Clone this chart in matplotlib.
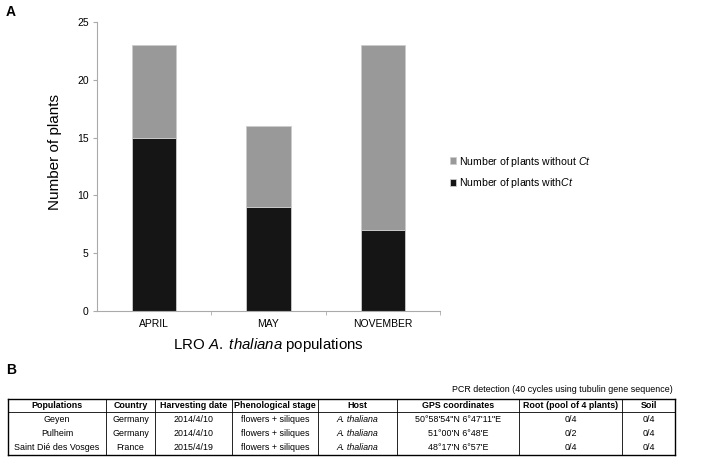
import matplotlib
matplotlib.use("Agg")
import matplotlib.pyplot as plt
from matplotlib.lines import Line2D
import numpy as np

plt.rcParams['font.family'] = ['Liberation Sans', 'DejaVu Sans']
plt.rcParams['mathtext.fontset'] = 'custom'
plt.rcParams['mathtext.rm'] = 'Liberation Sans'
plt.rcParams['mathtext.it'] = 'Liberation Sans:italic'
plt.rcParams['mathtext.bf'] = 'Liberation Sans:bold'

months = ["APRIL", "MAY", "NOVEMBER"]
with_ct = [15, 9, 7]
without_ct = [8, 7, 16]
yticks = [0, 5, 10, 15, 20, 25]

col_headers = ["Populations", "Country", "Harvesting date", "Phenological stage",
               "Host", "GPS coordinates", "Root (pool of 4 plants)", "Soil"]
populations = ["Geyen", "Pulheim", "Saint Dié des Vosges"]
countries = ["Germany", "Germany", "France"]
dates = ["2014/4/10", "2014/4/10", "2015/4/19"]
stages = ["flowers + siliques"] * 3
hosts = ["A. thaliana"] * 3
gps = ["50°58'54\"N 6°47'11\"E", "51°00'N 6°48'E", "48°17'N 6°57'E"]
roots = ["0/4", "0/2", "0/4"]
soils = ["0/4", "0/4", "0/4"]

W, H = 725, 457
fig = plt.figure(figsize=(W / 100, H / 100), dpi=100)

def fx(px):
    return px / W

def fy(py):
    return 1 - py / H

ax = fig.add_axes([fx(97), fy(311), fx(440) - fx(97), fy(22) - fy(311)])
x = np.arange(len(months))
bw = 0.39
ax.bar(x, with_ct, bw, color="#151515", edgecolor="#cccccc", linewidth=0.6,
       label="Number of plants with$\\it{Ct}$")
ax.bar(x, without_ct, bw, bottom=with_ct, color="#999999", edgecolor="#cccccc",
       linewidth=0.6, label="Number of plants without $\\it{Ct}$")
ax.set_xlim(-0.5, 2.5)
ax.set_ylim(0, 25)
ax.set_yticks(yticks)
ax.set_xticks(x)
ax.set_xticklabels(months, fontsize=7.5)
ax.set_xticks([0.5, 1.5, 2.5], minor=True)
ax.tick_params(axis="x", which="major", length=0, pad=6)
ax.tick_params(axis="x", which="minor", length=3, color="#aaaaaa")
ax.tick_params(axis="y", length=3, color="#aaaaaa", labelsize=7.5, pad=3)
for s in ["top", "right"]:
    ax.spines[s].set_visible(False)
for s in ["left", "bottom"]:
    ax.spines[s].set_color("#aaaaaa")
    ax.spines[s].set_linewidth(0.8)
ax.set_ylabel("Number of plants", fontsize=11)
ax.yaxis.set_label_coords(-0.102, 0.55)
ax.set_xlabel("LRO $\\it{A.}$ $\\it{thaliana}$ populations", fontsize=10.8, labelpad=5)

handles, labels = ax.get_legend_handles_labels()
fig.legend(handles[::-1], labels[::-1], loc="center left",
           bbox_to_anchor=(fx(440), fy(172.5)), frameon=False, fontsize=7.6,
           handlelength=0.6, handleheight=0.6, handletextpad=0.3, labelspacing=0.75)

fig.text(fx(6), fy(12), "A", fontsize=10, fontweight="bold", va="center")
fig.text(fx(6), fy(370), "B", fontsize=10, fontweight="bold", va="center")

# Table
col_x = [8, 106, 155, 232, 318, 397, 519, 622, 675]
row_y = [399, 412, 426, 440, 455]
fig.text(fx(673), fy(390), "PCR detection (40 cycles using tubulin gene sequence)",
         fontsize=6.4, ha="right", va="center")
lw_outer = 1.0
lw_inner = 0.6
for i, cx in enumerate(col_x):
    lw = lw_outer if i in (0, len(col_x) - 1) else lw_inner
    fig.add_artist(Line2D([fx(cx), fx(cx)], [fy(row_y[0]), fy(row_y[-1])],
                          color="black", linewidth=lw))
for j, ry in enumerate([row_y[0], row_y[1], row_y[-1]]):
    lw = lw_outer if j != 1 else lw_inner
    fig.add_artist(Line2D([fx(col_x[0]), fx(col_x[-1])], [fy(ry), fy(ry)],
                          color="black", linewidth=lw))

for i, h in enumerate(col_headers):
    cx = (col_x[i] + col_x[i + 1]) / 2
    fig.text(fx(cx), fy((row_y[0] + row_y[1]) / 2), h, fontsize=6.4, fontweight="bold",
             ha="center", va="center")

columns = [populations, countries, dates, stages, hosts, gps, roots, soils]
for r in range(3):
    cy = (row_y[r + 1] + row_y[r + 2]) / 2
    for i, col in enumerate(columns):
        cx = (col_x[i] + col_x[i + 1]) / 2
        style = "italic" if i == 4 else "normal"
        fig.text(fx(cx), fy(cy), col[r], fontsize=6.4, ha="center", va="center",
                 style=style)

fig.savefig("out.png", dpi=100)
